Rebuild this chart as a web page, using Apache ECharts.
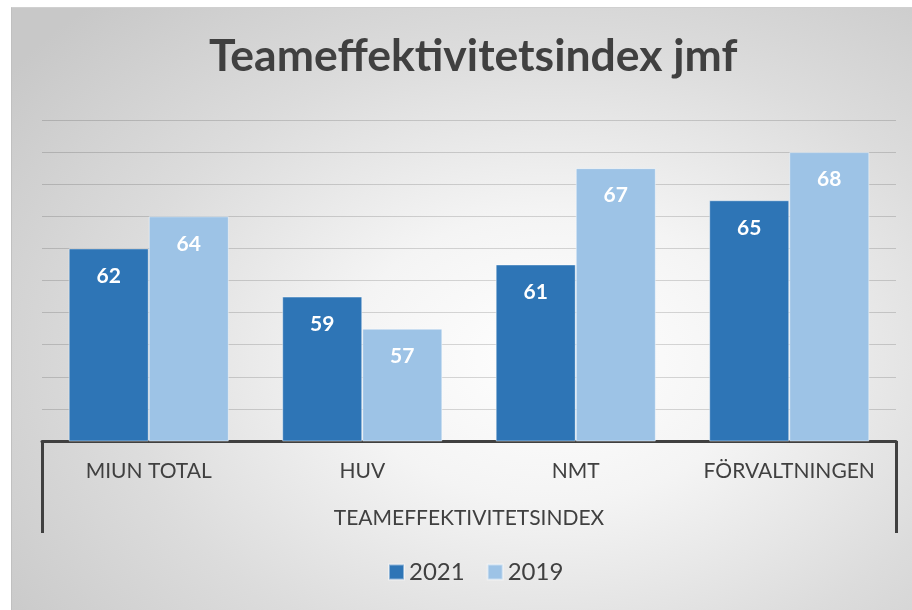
<!DOCTYPE html>
<html>
<head>
<meta charset="utf-8">
<script src="https://cdn.jsdelivr.net/npm/echarts@6/dist/echarts.min.js"></script>
<style>
  html, body { margin: 0; padding: 0; background: #ffffff; }
  #bg {
    position: absolute; left: 11px; top: 7px; width: 900px; height: 602px;
    border-top: 1px solid #d0d0d0; border-left: 1px solid #c0c0c0;
    background: radial-gradient(ellipse 75% 80% at 60% 58%, #ffffff 0%, #f4f4f4 30%, #dcdcdc 65%, #c8c8c8 100%);
  }
  #chart { position: absolute; left: 0; top: 0; width: 912px; height: 610px; }
</style>
</head>
<body>
<div id="bg"></div>
<div id="chart"></div>
<script>
const titleText = 'Teameffektivitetsindex jmf';
const categories = ['MIUN TOTAL', 'HUV', 'NMT', 'FÖRVALTNINGEN'];
const outerCategory = ['TEAMEFFEKTIVITETSINDEX'];
const seriesNames = ['2021', '2019'];
const values2021 = [62, 59, 61, 65];
const values2019 = [64, 57, 67, 68];

const FONT = 'Lato, "Open Sans", sans-serif';
const chart = echarts.init(document.getElementById('chart'), null, { renderer: 'canvas' });

const labelStyle = {
  show: true,
  position: 'insideTop',
  distance: 17,
  color: '#ffffff',
  fontFamily: FONT,
  fontWeight: 'bold',
  fontSize: 21
};

chart.setOption({
  backgroundColor: 'transparent',
  animation: false,
  title: {
    text: titleText,
    left: 204,
    top: 29,
    textStyle: { fontFamily: FONT, fontWeight: 'bold', fontSize: 44.5, color: '#404040' }
  },
  legend: {
    data: seriesNames,
    left: 383,
    top: 555,
    itemWidth: 15,
    itemHeight: 15,
    itemGap: 22,
    icon: 'rect',
    textStyle: { fontFamily: FONT, fontSize: 24, color: '#404040' }
  },
  grid: { left: 42, right: 16, top: 120, bottom: 169, containLabel: false },
  xAxis: [
    {
      type: 'category',
      data: categories,
      position: 'bottom',
      axisLine: { show: true, lineStyle: { color: '#404040', width: 3 } },
      axisTick: { show: false },
      axisLabel: { interval: 0, margin: 20, fontFamily: FONT, fontSize: 21, color: '#404040' }
    },
    {
      type: 'category',
      data: outerCategory,
      position: 'bottom',
      offset: 0,
      axisLine: { show: false },
      axisTick: { show: true, length: 92, lineStyle: { color: '#404040', width: 3 } },
      axisLabel: { interval: 0, margin: 67, fontFamily: FONT, fontSize: 21, color: '#404040' },
      splitLine: { show: false }
    }
  ],
  yAxis: {
    type: 'value',
    min: 50,
    max: 70,
    interval: 2,
    axisLabel: { show: false },
    axisLine: { show: false },
    axisTick: { show: false },
    splitLine: { show: true, lineStyle: { color: 'rgba(0,0,0,0.15)', width: 1 } }
  },
  series: [
    {
      name: seriesNames[0],
      type: 'bar',
      xAxisIndex: 0,
      data: values2021,
      barGap: '0%',
      barCategoryGap: '25%',
      itemStyle: { color: '#2E75B6', borderColor: 'rgba(255,255,255,0.45)', borderWidth: 1 },
      label: labelStyle
    },
    {
      name: seriesNames[1],
      type: 'bar',
      xAxisIndex: 0,
      data: values2019,
      barGap: '0%',
      barCategoryGap: '25%',
      itemStyle: { color: '#9DC3E6', borderColor: 'rgba(255,255,255,0.45)', borderWidth: 1 },
      label: labelStyle
    }
  ]
});
</script>
</body>
</html>
